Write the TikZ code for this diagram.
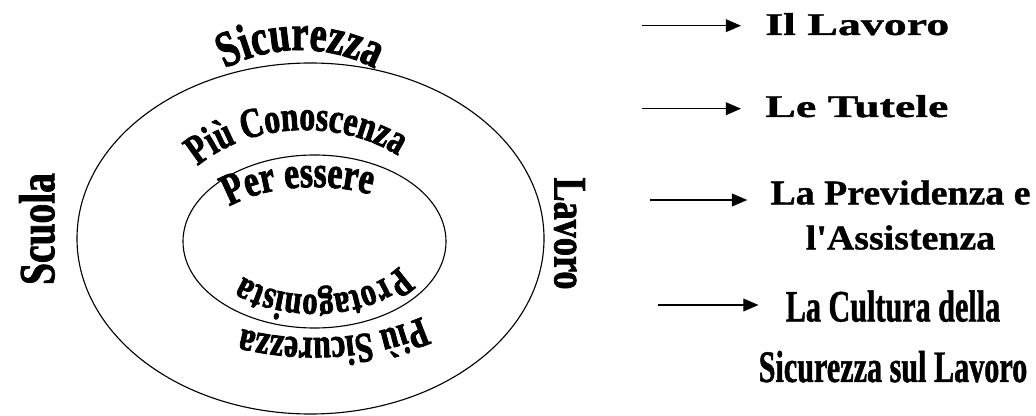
\documentclass[tikz,border=0pt]{standalone}
\usepackage{fontspec}
\setmainfont{Liberation Serif}
\newfontfamily\widefont[FakeStretch=1.45,FakeBold=1.2]{Liberation Serif}
\newfontfamily\plainwide[FakeStretch=1.09,FakeBold=1]{Liberation Serif}
\newfontfamily\narrowfont[FakeStretch=0.67,FakeBold=1]{Liberation Serif}
\newfontfamily\arcfamily[FakeStretch=0.75,FakeBold=1.8]{Liberation Serif}
\newfontfamily\tallfamily[FakeStretch=0.78,FakeBold=1.5]{Liberation Serif}
\usetikzlibrary{arrows.meta,decorations.text}
\newcommand{\arcfont}[1]{\arcfamily\bfseries\fontsize{#1}{#1}\selectfont}
\newcommand{\tallfont}[1]{\tallfamily\bfseries\fontsize{#1}{#1}\selectfont}
\tikzset{
	pointer/.style={line width=0.9pt, -{Triangle[length=3.8mm,width=3.2mm]}, shorten >=#1},
	pointer/.default=0mm,
	curved/.style={decorate, decoration={text along path, text={#1}, text align=center}},
	sidetext/.style={inner sep=0pt}
}

\begin{document}
\begin{tikzpicture}[x=0.025cm,y=0.025cm]
	\useasboundingbox (0,0) rectangle (1036,415);
	\coordinate (big) at (310.5,176.5);
	\coordinate (small) at (314.5,173.5);
	\coordinate (top) at (300,205);
	\draw[line width=0.8pt] (big) ellipse [x radius=233.5, y radius=175.5];
	\draw[line width=0.8pt] (small) ellipse [x radius=131.5, y radius=86.5];
	% words along the rings
	\path[curved={|\arcfont{36}|Sicurezza}] ([shift={(125:160)}]top) arc[start angle=125, end angle=55, radius=160];
	\path[curved={|\arcfont{30}|Più Conoscenza}] ([shift={(142:145 and 110)}]305,175) arc[start angle=142, end angle=46, x radius=145, y radius=110];
	\path[curved={|\arcfont{32}|Per essere}] ([shift={(152:111 and 54.5)}]small) arc[start angle=152, end angle=50, x radius=111, y radius=54.5];
	\path[curved={|\arcfont{29}|Protagonista}] ([shift={(-5:95 and 53.5)}]small) arc[start angle=-5, end angle=-158, x radius=95, y radius=53.5];
	\path[curved={|\arcfont{30}|Più Sicurezza}] ([shift={(-38:172 and 96.5)}]small) arc[start angle=-38, end angle=-127, x radius=172, y radius=96.5];
	\node[rotate=90, font=\tallfont{36}] (scuola) at (37,186) {Scuola};
	\node[rotate=-90, font=\tallfont{33}] (lavoro) at (569.5,181.5) {Lavoro};
	% list on the right
	\node[sidetext, anchor=base west, font=\widefont\bfseries\fontsize{22.5}{27}\selectfont] (lav) at (765,380) {Il Lavoro};
	\node[sidetext, anchor=base west, font=\widefont\bfseries\fontsize{22.5}{27}\selectfont] (tut) at (765,298) {Le Tutele};
	\node[sidetext, anchor=north, align=center, font=\plainwide\bfseries\fontsize{24.7}{32}\selectfont] (prev) at (900.5,235) {La Previdenza e\\l'Assistenza};
	\node[sidetext, anchor=north, align=center, font=\narrowfont\bfseries\fontsize{32}{43}\selectfont] (cult) at (893,125) {La Cultura della\\Sicurezza sul Lavoro};
	\coordinate (p1) at (642,389.3);
	\coordinate (p2) at (642,306.3);
	\coordinate (p3) at (650,215);
	\coordinate (p4) at (658,110);
	\draw[pointer=6mm] (p1) -- (p1 -| lav.west);
	\draw[pointer=6mm] (p2) -- (p2 -| tut.west);
	\draw[pointer=5.75mm] (p3) -- (p3 -| prev.west);
	\draw[pointer] (p4) -- (p4 -| cult.west);
\end{tikzpicture}
\end{document}
